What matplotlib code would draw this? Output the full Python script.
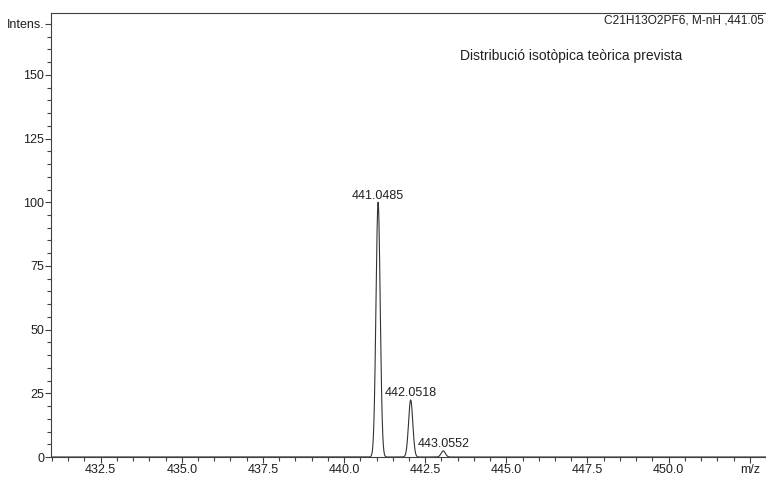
#!/usr/bin/env python

"""
Theoretical isotope distribution for C21H13O2PF6 (M-nH), drawn as a
profile spectrum from the stick peak list.
"""

import numpy as np
import matplotlib
matplotlib.use("Agg")
import matplotlib.pyplot as plt
from matplotlib.ticker import MultipleLocator, FixedLocator, FixedFormatter

# peak list (m/z, relative intensity)
peak_mz = [441.0485, 442.0518, 443.0552]
peak_intens = [100.0, 22.4, 2.4]
peak_labels = ["441.0485", "442.0518", "443.0552"]

x_ticks = [432.5, 435.0, 437.5, 440.0, 442.5, 445.0, 447.5, 450.0, 452.5]
x_tick_labels = ["432.5", "435.0", "437.5", "440.0", "442.5", "445.0",
                 "447.5", "450.0", "m/z"]
y_ticks = [0, 25, 50, 75, 100, 125, 150, 170]
y_tick_labels = ["0", "25", "50", "75", "100", "125", "150", "Intens."]

formula_text = "C21H13O2PF6, M-nH ,441.05"
title_text = "Distribució isotòpica teòrica prevista"


def main():

    plt.rcParams["font.family"] = ["Liberation Sans", "DejaVu Sans"]
    plt.rcParams["font.size"] = 9

    fig = plt.figure(figsize=(7.66, 4.78), dpi=100)
    ax = fig.add_axes([51/766, 21/478, 715/766, 444/478])

    # build a profile from the sticks, gaussian peak shape
    sigma = 0.065
    mz = np.linspace(430.9, 453.1, 8000)
    profile = np.zeros_like(mz)
    for m, h in zip(peak_mz, peak_intens):
        profile += h * np.exp(-0.5 * ((mz - m) / sigma)**2)

    ax.plot(mz, profile, color="#333333", lw=0.8)

    for m, h, lab in zip(peak_mz, peak_intens, peak_labels):
        ax.text(m, h + 0.3, lab, ha="center", va="bottom", fontsize=9,
                color="#202020")

    ax.set_xlim(430.97, 453.0)
    ax.set_ylim(0, 174.3)

    ax.xaxis.set_major_locator(FixedLocator(x_ticks))
    ax.xaxis.set_major_formatter(FixedFormatter(x_tick_labels))
    ax.xaxis.set_minor_locator(MultipleLocator(0.5))
    ax.yaxis.set_major_locator(FixedLocator(y_ticks))
    ax.yaxis.set_major_formatter(FixedFormatter(y_tick_labels))
    ax.yaxis.set_minor_locator(MultipleLocator(5))

    ax.tick_params(which="major", length=4, width=0.8, colors="#404040",
                   labelcolor="#202020", pad=1.0)
    ax.tick_params(which="minor", length=3, width=0.8, colors="#404040")

    ax.spines["right"].set_visible(False)
    for side in ["left", "bottom", "top"]:
        ax.spines[side].set_color("#404040")
        ax.spines[side].set_linewidth(0.8)

    ax.text(0.997, 0.984, formula_text, transform=ax.transAxes,
            ha="right", va="center", fontsize=8.6, color="#202020")
    ax.text(0.572, 0.903, title_text, transform=ax.transAxes,
            ha="left", va="center", fontsize=10, color="#202020")

    fig.savefig("out.png", dpi=100)


if __name__ == "__main__":

    main()
